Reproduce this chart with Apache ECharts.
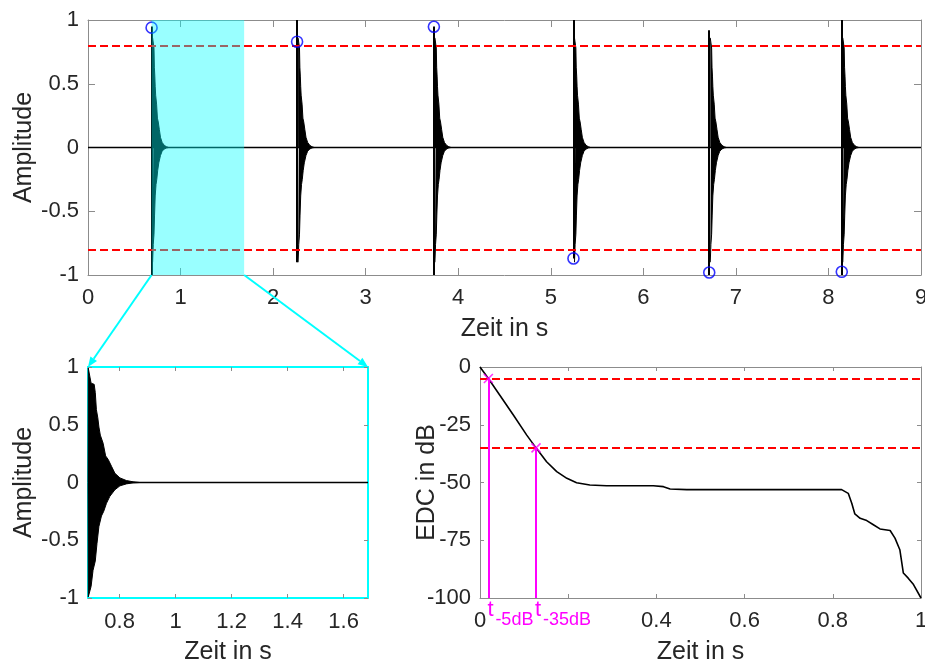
<!DOCTYPE html>
<html>
<head>
<meta charset="utf-8">
<script src="https://cdn.jsdelivr.net/npm/echarts@6/dist/echarts.min.js"></script>
<style>
  html, body { margin: 0; padding: 0; background: #ffffff; }
  #main { width: 925px; height: 660px; }
</style>
</head>
<body>
<div id="main"></div>
<script>
// ---- Impulse train (top panel) ----
const impulseOnsets   = [0.687, 2.259, 3.737, 5.245, 6.712, 8.144];   // s
const impulsePeakHigh = [0.95, 1.0, 0.95, 1.0, 0.92, 1.0];
const impulsePeakLow  = [-1.0, -0.9, -1.0, -0.87, -1.0, -1.0];
// detected peak of every impulse (circle markers)
const peakMarkerValues = [0.94, 0.83, 0.947, -0.87, -0.98, -0.975];
// amplitude thresholds
const ampThresholds = [0.8, -0.8];

// ---- Decay envelope of one impulse (offset after onset in s, amplitude) ----
const envUpperOffset = [0, 0.001, 0.011, 0.022, 0.026, 0.030, 0.035, 0.039, 0.044, 0.054, 0.063, 0.072, 0.084, 0.096, 0.114, 0.137, 0.161, 0.185];
const envUpperValue  = [0, 0.99, 0.86, 0.85, 0.78, 0.63, 0.56, 0.48, 0.41, 0.34, 0.23, 0.20, 0.14, 0.08, 0.04, 0.017, 0.006, 0];
const envLowerOffset = [0, 0.001, 0.011, 0.018, 0.026, 0.032, 0.039, 0.048, 0.056, 0.066, 0.078, 0.096, 0.114, 0.137, 0.161, 0.185];
const envLowerValue  = [0, -0.99, -0.90, -0.76, -0.68, -0.53, -0.38, -0.29, -0.25, -0.18, -0.12, -0.063, -0.029, -0.012, -0.003, 0];

// ---- Analysis window (shaded, shown enlarged bottom left) ----
const windowStart = 0.687;
const windowEnd   = 1.687;
const windowTicks = [0.8, 1.0, 1.2, 1.4, 1.6];

// ---- Energy decay curve (bottom right) ----
const edcTime  = [0, 0.019, 0.045, 0.076, 0.106, 0.127, 0.151, 0.174, 0.197, 0.219, 0.249, 0.287, 0.393, 0.416, 0.431, 0.469, 0.62, 0.82, 0.835, 0.843, 0.850, 0.862, 0.877, 0.892, 0.907, 0.93, 0.941, 0.952, 0.96, 0.971, 0.983, 1.0];
const edcLevel = [0, -5, -12.2, -20.9, -29.5, -35, -41, -45.3, -48.2, -50.1, -51.1, -51.4, -51.4, -51.8, -52.8, -53.1, -53.1, -53.1, -54.7, -59, -63.6, -65.5, -66.5, -68.3, -70.1, -70.8, -74.1, -79.1, -89.2, -91.4, -94.2, -100];
const edcThresholds = [-5, -35];
const edcCrossTimes = [0.019, 0.127];
const edcCrossNames = ['-5dB', '-35dB'];

// ---- Styling ----
const FONT = 'Liberation Sans';
const AXIS_GRAY = '#8c8c8c';
const TEXT = '#262626';
const CYAN = '#00FFFF';
const MAGENTA = '#FF00FF';
const TICK_FONT = 22;
const NAME_FONT = 25;

const chart = echarts.init(document.getElementById('main'), null, { renderer: 'canvas' });

function axisBase(gridIndex, opts) {
  const lineColor = opts.frame || AXIS_GRAY;
  const lineWidth = opts.frame ? 2 : 1;
  return Object.assign({
    type: 'value',
    gridIndex: gridIndex,
    axisLine: { show: true, onZero: false, lineStyle: { color: lineColor, width: lineWidth } },
    axisTick: { show: true, inside: true, length: opts.tickLen || 5, lineStyle: { color: AXIS_GRAY, width: 1 } },
    splitLine: { show: false },
    axisLabel: { show: false },
    nameMoveOverlap: false,
    nameTextStyle: { fontFamily: FONT, fontSize: NAME_FONT, color: TEXT }
  }, opts.extra || {});
}

function xLabel(margin, extra) {
  return Object.assign({ show: true, margin: margin, fontFamily: FONT, fontSize: TICK_FONT, color: TEXT,
    alignMinLabel: 'center', alignMaxLabel: 'center' }, extra || {});
}
function yLabel(margin) {
  return { show: true, margin: margin, fontFamily: FONT, fontSize: TICK_FONT, color: TEXT };
}

const fmt = v => String(+(+v).toFixed(2));

const xAxes = [
  // 0: top panel
  axisBase(0, { tickLen: 7, extra: { min: 0, max: 9, interval: 1, position: 'bottom',
    axisLabel: xLabel(12), name: 'Zeit in s', nameLocation: 'middle', nameGap: 42 } }),
  // 1: enlarged window
  axisBase(1, { frame: CYAN, tickLen: 4, extra: { min: windowStart, max: windowEnd, position: 'bottom',
    axisLabel: xLabel(13, { customValues: windowTicks, formatter: fmt }),
    name: 'Zeit in s', nameLocation: 'middle', nameGap: 42 } }),
  // 2: EDC
  axisBase(2, { tickLen: 4, extra: { min: 0, max: 1, interval: 0.2, position: 'bottom',
    axisLabel: xLabel(12, { formatter: v => (Math.abs(v - 0.2) < 1e-6 ? '' : fmt(v)) }),
    name: 'Zeit in s', nameLocation: 'middle', nameGap: 42 } }),
  // mirrored top edges
  axisBase(0, { tickLen: 7, extra: { min: 0, max: 9, interval: 1, position: 'top' } }),
  axisBase(1, { frame: CYAN, tickLen: 4, extra: { min: windowStart, max: windowEnd, position: 'top',
    axisTick: { show: true, inside: true, length: 4, customValues: windowTicks, lineStyle: { color: AXIS_GRAY } } } }),
  axisBase(2, { tickLen: 4, extra: { min: 0, max: 1, interval: 0.2, position: 'top' } })
];
xAxes[1].axisTick.customValues = windowTicks;

const yAxes = [
  axisBase(0, { tickLen: 7, extra: { min: -1, max: 1, interval: 0.5, position: 'left',
    axisLabel: yLabel(9), name: 'Amplitude', nameLocation: 'middle', nameGap: 51 } }),
  axisBase(1, { frame: CYAN, tickLen: 4, extra: { min: -1, max: 1, interval: 0.5, position: 'left',
    axisLabel: yLabel(9), name: 'Amplitude', nameLocation: 'middle', nameGap: 51 } }),
  axisBase(2, { tickLen: 4, extra: { min: -100, max: 0, interval: 25, position: 'left',
    axisLabel: yLabel(9), name: 'EDC in dB', nameLocation: 'middle', nameGap: 40 } }),
  axisBase(0, { tickLen: 7, extra: { min: -1, max: 1, interval: 0.5, position: 'right' } }),
  axisBase(1, { frame: CYAN, tickLen: 4, extra: { min: -1, max: 1, interval: 0.5, position: 'right' } }),
  axisBase(2, { tickLen: 4, extra: { min: -100, max: 0, interval: 25, position: 'right' } })
];

function envelopeSeries(onset, offsets, values, xi, yi, skip) {
  return {
    type: 'line', xAxisIndex: xi, yAxisIndex: yi, symbol: 'none', silent: true, z: 3,
    lineStyle: { color: '#000', width: 1 },
    areaStyle: { color: '#000', opacity: 1, origin: 0 },
    data: offsets.map((o, i) => [onset + o, values[i]]).slice(skip)
  };
}

const series = [];

// zero line of the whole signal + vertical impulse spikes
series.push({
  type: 'line', xAxisIndex: 0, yAxisIndex: 0, symbol: 'none', silent: true, z: 3,
  lineStyle: { color: '#000', width: 1.5 },
  data: [[0, 0], [9, 0]],
  markLine: {
    silent: true, symbol: ['none', 'none'], label: { show: false },
    lineStyle: { color: '#000', width: 2, type: 'solid' },
    data: impulseOnsets.map((t, i) => [{ coord: [t, impulsePeakLow[i]] }, { coord: [t, impulsePeakHigh[i]] }])
  }
});
// amplitude thresholds
series.push({
  type: 'line', xAxisIndex: 0, yAxisIndex: 0, symbol: 'none', silent: true, z: 2, data: [],
  markLine: {
    silent: true, symbol: ['none', 'none'], label: { show: false },
    lineStyle: { color: '#FF0000', width: 2, type: [8, 4] },
    data: ampThresholds.map(v => ({ yAxis: v }))
  }
});
// decaying tails of every impulse
impulseOnsets.forEach(t => {
  series.push(envelopeSeries(t, envUpperOffset, envUpperValue, 0, 0, 2));
  series.push(envelopeSeries(t, envLowerOffset, envLowerValue, 0, 0, 2));
});
// detected peaks
series.push({
  type: 'scatter', xAxisIndex: 0, yAxisIndex: 0, silent: true, z: 6,
  symbol: 'circle', symbolSize: 11,
  itemStyle: { color: 'none', borderColor: '#0000FF', borderWidth: 1.6 },
  data: impulseOnsets.map((t, i) => [t, peakMarkerValues[i]])
});
// analysis window highlight
series.push({
  type: 'custom', xAxisIndex: 0, yAxisIndex: 0, silent: true, z: 10,
  data: [[windowStart, windowEnd]],
  renderItem: function (params, api) {
    const p0 = api.coord([api.value(0), 1]);
    const p1 = api.coord([api.value(1), -1]);
    return { type: 'rect', shape: { x: p0[0], y: p0[1], width: p1[0] - p0[0], height: p1[1] - p0[1] },
             style: { fill: 'rgba(0,255,255,0.4)' } };
  }
});

// enlarged window: first impulse
series.push({
  type: 'line', xAxisIndex: 1, yAxisIndex: 1, symbol: 'none', silent: true, z: 3,
  lineStyle: { color: '#000', width: 1.5 },
  data: [[impulseOnsets[0], 0], [windowEnd, 0]]
});
series.push(envelopeSeries(impulseOnsets[0], envUpperOffset, envUpperValue, 1, 1, 0));
series.push(envelopeSeries(impulseOnsets[0], envLowerOffset, envLowerValue, 1, 1, 0));

// energy decay curve
series.push({
  type: 'line', xAxisIndex: 2, yAxisIndex: 2, symbol: 'none', silent: true, z: 4,
  lineStyle: { color: '#000', width: 1.6 },
  data: edcTime.map((t, i) => [t, edcLevel[i]])
});
series.push({
  type: 'line', xAxisIndex: 2, yAxisIndex: 2, symbol: 'none', silent: true, z: 2, data: [],
  markLine: {
    silent: true, symbol: ['none', 'none'], label: { show: false },
    lineStyle: { color: '#FF0000', width: 2, type: [8, 4] },
    data: edcThresholds.map(v => ({ yAxis: v }))
  }
});
series.push({
  type: 'scatter', xAxisIndex: 2, yAxisIndex: 2, silent: true, z: 6,
  symbol: 'path://M0 0L10 10M10 0L0 10', symbolSize: 9,
  itemStyle: { color: 'none', borderColor: MAGENTA, borderWidth: 1.6 },
  data: edcCrossTimes.map((t, i) => [t, edcThresholds[i]]),
  markLine: {
    silent: true, symbol: ['none', 'none'], label: { show: false },
    lineStyle: { color: MAGENTA, width: 2, type: 'solid' },
    data: edcCrossTimes.map((t, i) => [{ coord: [t, -100] }, { coord: [t, edcThresholds[i]] }])
  }
});

chart.setOption({
  animation: false,
  backgroundColor: '#ffffff',
  grid: [
    { left: 88, top: 20, width: 833, height: 255, outerBoundsMode: 'none' },
    { left: 88, top: 367, width: 280, height: 231, outerBoundsMode: 'none' },
    { left: 480, top: 367, width: 441, height: 231, outerBoundsMode: 'none' }
  ],
  xAxis: xAxes,
  yAxis: yAxes,
  series: series
});

// connector arrows from the shaded window to the enlarged view, and t labels
const graphics = [];
function arrow(from, to) {
  const dx = to[0] - from[0], dy = to[1] - from[1];
  const len = Math.hypot(dx, dy);
  const ux = dx / len, uy = dy / len, nx = -uy, ny = ux;
  const L = 10, W = 4;
  const base = [to[0] - ux * L, to[1] - uy * L];
  graphics.push({ type: 'line', silent: true, z: 20,
    shape: { x1: from[0], y1: from[1], x2: base[0], y2: base[1] },
    style: { stroke: CYAN, lineWidth: 2 } });
  graphics.push({ type: 'polygon', silent: true, z: 20,
    shape: { points: [to, [base[0] + nx * W, base[1] + ny * W], [base[0] - nx * W, base[1] - ny * W]] },
    style: { fill: CYAN } });
}
[windowStart, windowEnd].forEach(t => {
  const from = chart.convertToPixel({ xAxisIndex: 0, yAxisIndex: 0 }, [t, -1]);
  const to = chart.convertToPixel({ xAxisIndex: 1, yAxisIndex: 1 }, [t, 1]);
  arrow(from, to);
});
edcCrossTimes.forEach((t, i) => {
  const p = chart.convertToPixel({ xAxisIndex: 2, yAxisIndex: 2 }, [t, -100]);
  graphics.push({ type: 'text', silent: true, z: 20, x: p[0] - 1, y: p[1] + 1,
    style: { text: 't', fontFamily: FONT, fontSize: 22, fill: MAGENTA, align: 'left', verticalAlign: 'top' } });
  graphics.push({ type: 'text', silent: true, z: 20, x: p[0] + 7, y: p[1] + 13,
    style: { text: edcCrossNames[i], fontFamily: FONT, fontSize: 18, fill: MAGENTA, align: 'left', verticalAlign: 'top' } });
});
chart.setOption({ graphic: graphics });
</script>
</body>
</html>
